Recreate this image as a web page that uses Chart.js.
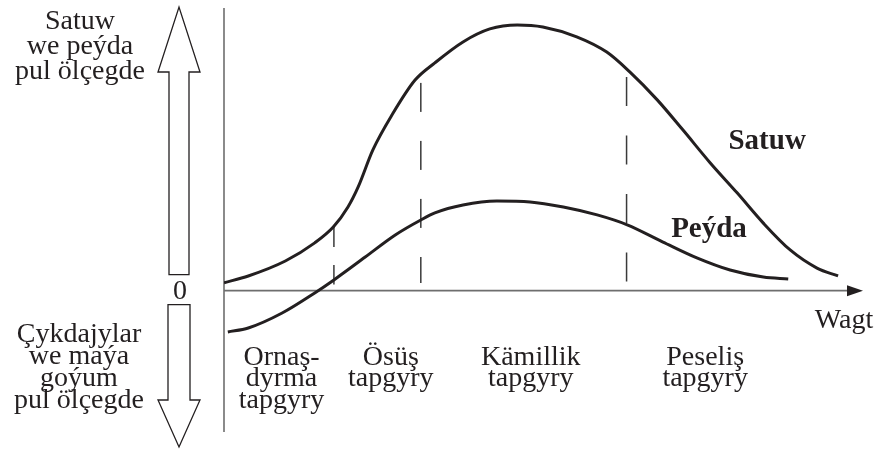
<!DOCTYPE html>
<html>
<head>
<meta charset="utf-8">
<script src="https://cdn.jsdelivr.net/npm/chart.js@4"></script>
<style>
  html, body { margin: 0; padding: 0; background: #fff; }
  #wrap { width: 877px; height: 449px; }
</style>
</head>
<body>
<div id="wrap"><canvas id="chart" width="877" height="449"></canvas></div>
<script>
// time runs 0..100 along the x axis, money -50..100 on the y axis (0 = x axis)
const salesX = [0, 3.8, 9.6, 14.2, 17.1, 19.4, 21.0, 23.3, 26.3, 29.9, 33.0, 37.4, 41.6, 45.9, 49.9, 55.2, 59.9, 63.5, 67.8, 71.8, 76.1, 80.3, 84.4, 88.6, 92.8, 96.1];
const salesY = [2.8, 5.2, 10.5, 16.9, 22.5, 29.6, 36.7, 49.8, 62.2, 74.5, 80.6, 88.0, 92.6, 94.0, 93.3, 89.8, 84.4, 77.4, 67.5, 56.9, 45.2, 34.6, 23.9, 14.4, 8.0, 5.2];

const profitX = [0.6, 3.8, 9.1, 14.2, 17.2, 22.1, 26.8, 30.8, 33.0, 37.4, 42.7, 47.9, 53.1, 58.4, 63.1, 68.7, 74.0, 79.2, 84.4, 88.3];
const profitY = [-14.6, -13.2, -7.9, -0.8, 3.8, 11.9, 19.7, 25.0, 27.5, 30.3, 31.7, 31.4, 29.6, 26.8, 23.3, 17.2, 11.6, 7.3, 4.8, 4.1];

// stage boundaries (dashed)
const phaseX = [17.2, 30.8, 63.0];
const phaseTop = [22.5, 73.5, 75.6];
const phaseBottom = [2.2, 2.7, 3.1];
const phaseDash = [[20, 18], [29, 29], [29, 29.5]];

// stage names under the axis
const phaseLabels = [['Ornaş-', 'dyrma', 'tapgyry'], ['Ösüş', 'tapgyry'], ['Kämillik', 'tapgyry'], ['Peseliş', 'tapgyry']];
const phaseLabelX = [9.0, 26.1, 48.0, 75.3];

const salesName = 'Satuw';
const profitName = 'Peýda';
const salesLabelPos = { x: 85.0, y: 52.6 };
const profitLabelPos = { x: 75.9, y: 21.8 };

const topNote = ['Satuw', 'we peýda', 'pul ölçegde'];
const bottomNote = ['Çykdajylar', 'we maýa', 'goýum', 'pul ölçegde'];
const timeName = 'Wagt';
const zeroName = '0';

const INK = '#231f20';
const AXIS = '#6e6e6e';
const SERIF = '"Liberation Serif", "Times New Roman", serif';

const pts = (xs, ys) => xs.map((x, i) => ({ x, y: ys[i] }));

const datasets = [
  { data: pts(salesX, salesY), borderColor: INK, borderWidth: 3, tension: 0.4, cubicInterpolationMode: 'monotone' },
  { data: pts(profitX, profitY), borderColor: INK, borderWidth: 3, tension: 0.4, cubicInterpolationMode: 'monotone' },
];
phaseX.forEach((px, i) => {
  datasets.push({
    data: [{ x: px, y: phaseTop[i] }, { x: px, y: phaseBottom[i] }],
    borderColor: '#3a3a3a',
    borderWidth: 1.5,
    borderDash: phaseDash[i],
    tension: 0,
  });
});

function drawLines(ctx, lines, cx, firstBase, lineH) {
  lines.forEach((t, i) => ctx.fillText(t, cx, firstBase + i * lineH));
}

const decor = {
  id: 'decor',
  beforeDatasetsDraw(chart) {
    const { ctx, chartArea: a, scales: { y } } = chart;
    const y0 = y.getPixelForValue(0);
    ctx.save();
    ctx.strokeStyle = AXIS;
    ctx.lineWidth = 1.6;
    ctx.beginPath();
    ctx.moveTo(a.left, a.top);
    ctx.lineTo(a.left, a.bottom);
    ctx.moveTo(a.left, y0);
    ctx.lineTo(a.right - 12, y0);
    ctx.stroke();
    ctx.fillStyle = INK;
    ctx.beginPath();
    ctx.moveTo(a.right, y0);
    ctx.lineTo(a.right - 16, y0 - 5.5);
    ctx.lineTo(a.right - 16, y0 + 5.5);
    ctx.closePath();
    ctx.fill();
    ctx.restore();
  },
  afterDraw(chart) {
    const { ctx, chartArea: a, scales: { x, y } } = chart;
    const y0 = y.getPixelForValue(0);
    const ax = a.left - 45; // centre of the side arrows
    ctx.save();

    // hollow arrows on the left
    ctx.strokeStyle = INK;
    ctx.lineWidth = 1.3;
    ctx.beginPath();
    ctx.moveTo(ax - 10, y0 - 16);
    ctx.lineTo(ax - 10, 72);
    ctx.lineTo(ax - 21, 72);
    ctx.lineTo(ax, a.top - 1);
    ctx.lineTo(ax + 21, 72);
    ctx.lineTo(ax + 10, 72);
    ctx.lineTo(ax + 10, y0 - 16);
    ctx.closePath();
    ctx.stroke();
    ctx.beginPath();
    ctx.moveTo(ax - 11, y0 + 14);
    ctx.lineTo(ax - 11, 400);
    ctx.lineTo(ax - 21, 400);
    ctx.lineTo(ax, a.bottom + 15);
    ctx.lineTo(ax + 21, 400);
    ctx.lineTo(ax + 11, 400);
    ctx.lineTo(ax + 11, y0 + 14);
    ctx.closePath();
    ctx.stroke();

    ctx.fillStyle = INK;
    ctx.textAlign = 'center';
    ctx.textBaseline = 'alphabetic';
    ctx.font = '28px ' + SERIF;
    drawLines(ctx, topNote, 80, 29, 25);
    drawLines(ctx, bottomNote, 79, 342, 22);
    ctx.textBaseline = 'middle';
    ctx.fillText(zeroName, ax + 1, y0 + 1);
    ctx.textBaseline = 'alphabetic';
    ctx.fillText(timeName, a.right - 19, y0 + 37);

    phaseLabels.forEach((lines, i) => {
      drawLines(ctx, lines, x.getPixelForValue(phaseLabelX[i]), y0 + 74, lines.length > 2 ? 21.5 : 21);
    });

    ctx.font = 'bold 29px ' + SERIF;
    ctx.textBaseline = 'middle';
    ctx.fillText(salesName, x.getPixelForValue(salesLabelPos.x), y.getPixelForValue(salesLabelPos.y));
    ctx.fillText(profitName, x.getPixelForValue(profitLabelPos.x), y.getPixelForValue(profitLabelPos.y));
    ctx.restore();
  },
};

new Chart(document.getElementById('chart'), {
  type: 'line',
  data: { datasets },
  options: {
    responsive: false,
    animation: false,
    devicePixelRatio: 1,
    layout: { padding: { left: 224, right: 14, top: 8, bottom: 17 } },
    elements: { point: { radius: 0, hoverRadius: 0 } },
    plugins: { legend: { display: false }, tooltip: { enabled: false } },
    scales: {
      x: { type: 'linear', min: 0, max: 100, display: false },
      y: { type: 'linear', min: -50, max: 100, display: false },
    },
  },
  plugins: [decor],
});
</script>
</body>
</html>
